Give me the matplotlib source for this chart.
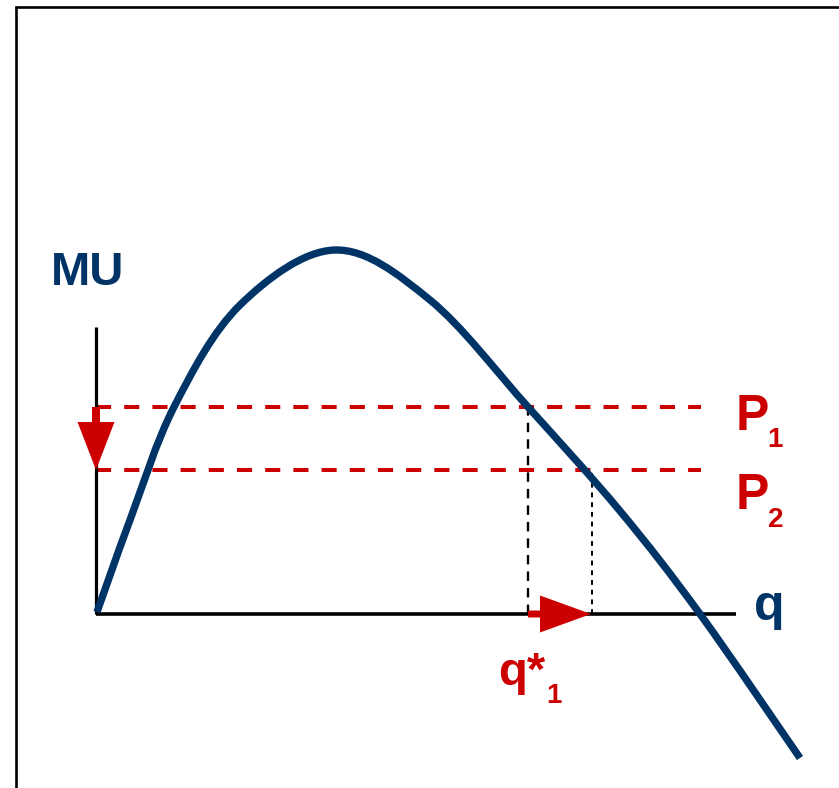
import matplotlib
matplotlib.use("Agg")
import matplotlib.pyplot as plt
from matplotlib.path import Path
from matplotlib.patches import PathPatch

# ---- data (q, MU) ----
curve_q = [0.1, 3.4, 7.8, 14.4, 23.9, 33.4, 43.2, 52.4, 60.4, 70.4]
curve_mu = [0.2, 9.4, 20.7, 30.9, 36.4, 31.4, 20.7, 10.3, 0.0, -14.4]
prices = [20.7, 14.4]          # P1, P2
quantities = [43.2, 49.6]      # q*1, q at P2
axis_len_q = 64.0
axis_len_mu = 28.7
price_line_end = 60.5

NAVY = "#003366"
RED = "#cc0000"
FONT = "Liberation Sans"

fig = plt.figure(figsize=(8.39, 7.88), dpi=100)
ax = fig.add_axes([0, 0, 1, 1])
ax.set_xlim(-9.6, 74.3)
ax.set_ylim(-17.4, 61.4)
ax.axis("off")

# frame (left and top edges)
ax.plot([-8.0, -8.0], [-17.4, 60.7], color="black", lw=1.9, solid_capstyle="butt")
ax.plot([-8.0, 74.3], [60.7, 60.7], color="black", lw=1.9, solid_capstyle="projecting")

# axes
ax.plot([0, 0], [0, axis_len_mu], color="black", lw=2.3, solid_capstyle="butt", zorder=3)
ax.plot([0, axis_len_q], [0, 0], color="black", lw=2.6, solid_capstyle="butt", zorder=3)

# price lines
for p in prices:
    ax.plot([0, price_line_end], [p, p], color=RED, lw=2.9, dashes=(3.75, 3.25), zorder=2)

# vertical dashed lines
ax.plot([quantities[0]] * 2, [0, prices[0]], color="black", lw=1.7, dashes=(4.0, 3.0), zorder=2)
ax.plot([quantities[1]] * 2, [0, prices[1]], color="black", lw=1.4, dashes=(2.5, 2.5), zorder=2)

# MU curve: smooth Bezier path through the read points (Catmull-Rom control points)
pts = list(zip(curve_q, curve_mu))
verts = [pts[0]]
codes = [Path.MOVETO]
n = len(pts)
for i in range(n - 1):
    p0 = pts[i - 1] if i > 0 else pts[i]
    p1 = pts[i]
    p2 = pts[i + 1]
    p3 = pts[i + 2] if i + 2 < n else pts[i + 1]
    c1 = (p1[0] + (p2[0] - p0[0]) / 6.0, p1[1] + (p2[1] - p0[1]) / 6.0)
    c2 = (p2[0] - (p3[0] - p1[0]) / 6.0, p2[1] - (p3[1] - p1[1]) / 6.0)
    verts += [c1, c2, p2]
    codes += [Path.CURVE4] * 3
ax.add_patch(PathPatch(Path(verts, codes), facecolor="none", edgecolor=NAVY,
                       lw=5.3, capstyle="butt", joinstyle="round", zorder=4))

# arrows
ax.arrow(0, prices[0], 0, prices[1] - prices[0], width=0.8, head_width=3.7,
         head_length=4.8, length_includes_head=True, color=RED, lw=0, zorder=5)
ax.arrow(quantities[0], 0, quantities[1] - quantities[0] - 0.1, 0, width=0.7, head_width=3.7,
         head_length=5.1, length_includes_head=True, color=RED, lw=0, zorder=5)

# labels
ax.text(-4.5, 32.9, "MU", color=NAVY, fontsize=34, fontweight="bold", family=FONT,
        ha="left", va="baseline")
ax.text(65.8, -0.6, "q", color=NAVY, fontsize=36, fontweight="bold", family=FONT,
        ha="left", va="baseline")
ax.text(64.0, 18.4, "P", color=RED, fontsize=36, fontweight="bold", family=FONT,
        ha="left", va="baseline")
ax.text(67.1, 16.7, "1", color=RED, fontsize=20, fontweight="bold", family=FONT,
        ha="left", va="baseline")
ax.text(64.0, 10.5, "P", color=RED, fontsize=36, fontweight="bold", family=FONT,
        ha="left", va="baseline")
ax.text(67.2, 8.7, "2", color=RED, fontsize=20, fontweight="bold", family=FONT,
        ha="left", va="baseline")
ax.text(40.2, -7.1, "q*", color=RED, fontsize=34, fontweight="bold", family=FONT,
        ha="left", va="baseline")
ax.text(45.0, -8.9, "1", color=RED, fontsize=20, fontweight="bold", family=FONT,
        ha="left", va="baseline")

fig.savefig("out.png", dpi=100)
